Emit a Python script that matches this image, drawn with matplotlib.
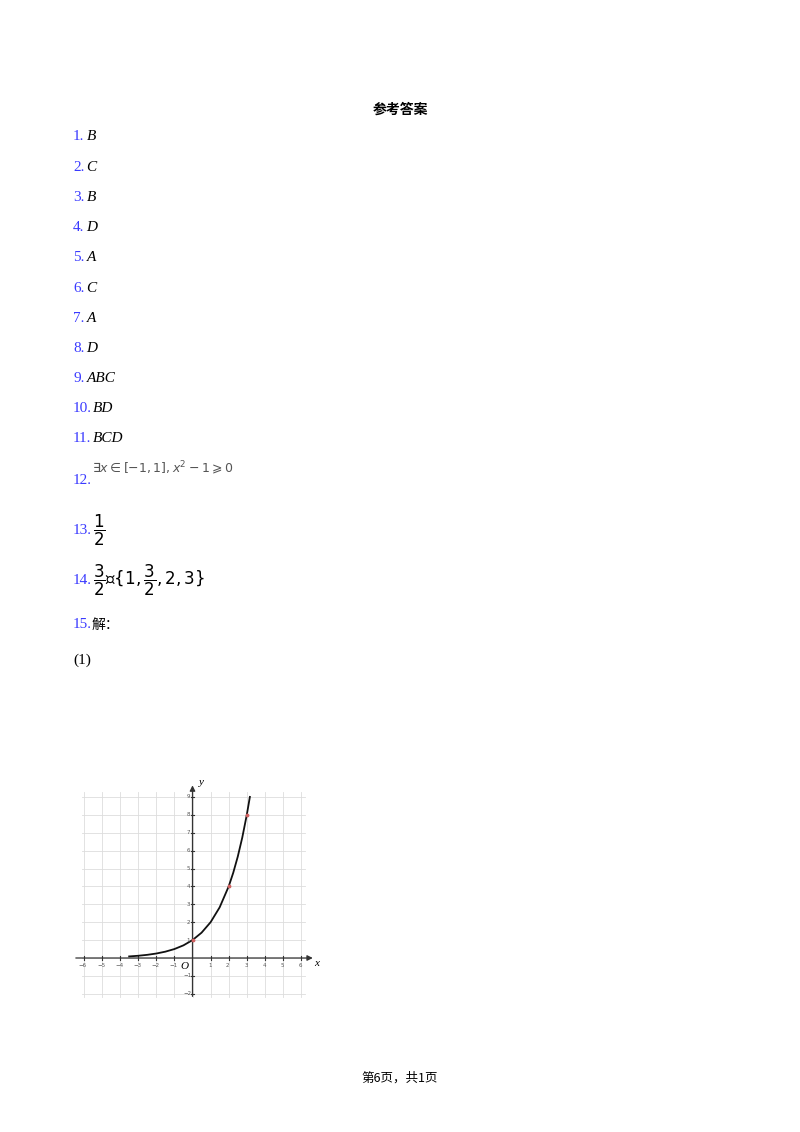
import matplotlib
matplotlib.use("Agg")
import matplotlib.pyplot as plt

answers = ["B", "C", "B", "D", "A", "C", "A", "D", "ABC", "BD", "BCD"]
curve_x = [-3.5, -3.0, -2.5, -2.0, -1.5, -1.0, -0.5, 0.0, 0.5, 1.0, 1.5, 2.0, 2.25, 2.5, 2.75, 3.0, 3.17]
curve_y = [0.088, 0.125, 0.177, 0.25, 0.354, 0.5, 0.707, 1.0, 1.414, 2.0, 2.83, 4.0, 4.76, 5.66, 6.73, 8.0, 9.0]
marked_x = [0, 2, 3]
marked_y = [1, 4, 8]
xticks = [-6, -5, -4, -3, -2, -1, 1, 2, 3, 4, 5, 6]
yticks = [-2, -1, 1, 2, 3, 4, 5, 6, 7, 8, 9]

W, H = 800, 1132
fig = plt.figure(figsize=(8, 11.32), dpi=100)
blue = "#3a3aff"
CJK = ["Noto Sans CJK SC", "DejaVu Sans"]
SER = ["Liberation Serif", "DejaVu Serif"]

def T(x, y, s, **kw):
    fig.text(x / W, 1 - y / H, s, va="center", **kw)

T(400, 110, "参考答案", ha="center", fontsize=10, fontweight="bold", family=CJK)
for i, a in enumerate(answers):
    y = 137 + 30.2 * i
    lab = f"{i+1}."
    T(73, y, lab, fontsize=11, color=blue, family=SER)
    T(73 + 6.3 * len(lab) + 1, y, a, fontsize=11, style="italic", family=SER)
T(73, 480, "12.", fontsize=11, color=blue, family=SER)
T(92, 468, r"$\exists x\in[-1,1],x^2-1\geqslant 0$", fontsize=9, color="#555555")
T(73, 530, "13.", fontsize=11, color=blue, family=SER)
T(93, 530, r"$\dfrac{1}{2}$", fontsize=12)
T(73, 580, "14.", fontsize=11, color=blue, family=SER)
T(93, 580, r"$\dfrac{3}{2}$；$\{1,\dfrac{3}{2},2,3\}$", fontsize=12)
T(73, 625, "15.", fontsize=11, color=blue, family=SER)
T(92, 625, "解：", fontsize=10, family=CJK)
T(73, 660, "(1)", fontsize=11, family=SER)
T(400, 1078, "第6页，共1页", ha="center", fontsize=9, family=CJK)

x0, px = 192.5, 18.1
y0, py = 958, 17.9
xl, xr = -7, 7
yb, yt = -2.6, 10
left = (x0 + xl * px) / W
right = (x0 + xr * px) / W
bot = 1 - (y0 - yb * py) / H
top = 1 - (y0 - yt * py) / H
ax = fig.add_axes([left, bot, right - left, top - bot])
ax.set_xlim(xl, xr); ax.set_ylim(yb, yt)
ax.axis("off")
for gx in range(-6, 7):
    ax.plot([gx, gx], [-2.2, 9.3], color="#dddddd", lw=0.6, zorder=0)
for gy in range(-2, 10):
    ax.plot([-6.1, 6.2], [gy, gy], color="#dddddd", lw=0.6, zorder=0)
ax.annotate("", xy=(6.8, 0), xytext=(-6.6, 0), arrowprops=dict(arrowstyle="-|>", lw=0.9, color="#333333", mutation_scale=8))
ax.annotate("", xy=(0, 9.8), xytext=(0, -2.3), arrowprops=dict(arrowstyle="-|>", lw=0.9, color="#333333", mutation_scale=8))
for t in xticks:
    ax.plot([t, t], [-0.1, 0.1], color="#333333", lw=0.8)
    ax.text(t - 0.05, -0.4, str(t).replace("-", "−"), fontsize=4, ha="center", va="center", color="#555555")
for t in yticks:
    ax.plot([-0.1, 0.1], [t, t], color="#333333", lw=0.8)
    ax.text(-0.25, t, str(t).replace("-", "−"), fontsize=4, ha="center", va="center", color="#555555")
ax.text(-0.45, -0.45, "O", fontsize=8, style="italic", ha="center", va="center", family=SER)
ax.text(6.85, -0.3, "x", fontsize=8, style="italic", ha="center", va="center", family=SER)
ax.text(0.5, 9.8, "y", fontsize=8, style="italic", ha="center", va="center", family=SER)
ax.plot(curve_x, curve_y, color="#111111", lw=1.3)
ax.scatter(marked_x, marked_y, s=3, color="#d06060", zorder=3)

fig.savefig("out.png", dpi=100)
